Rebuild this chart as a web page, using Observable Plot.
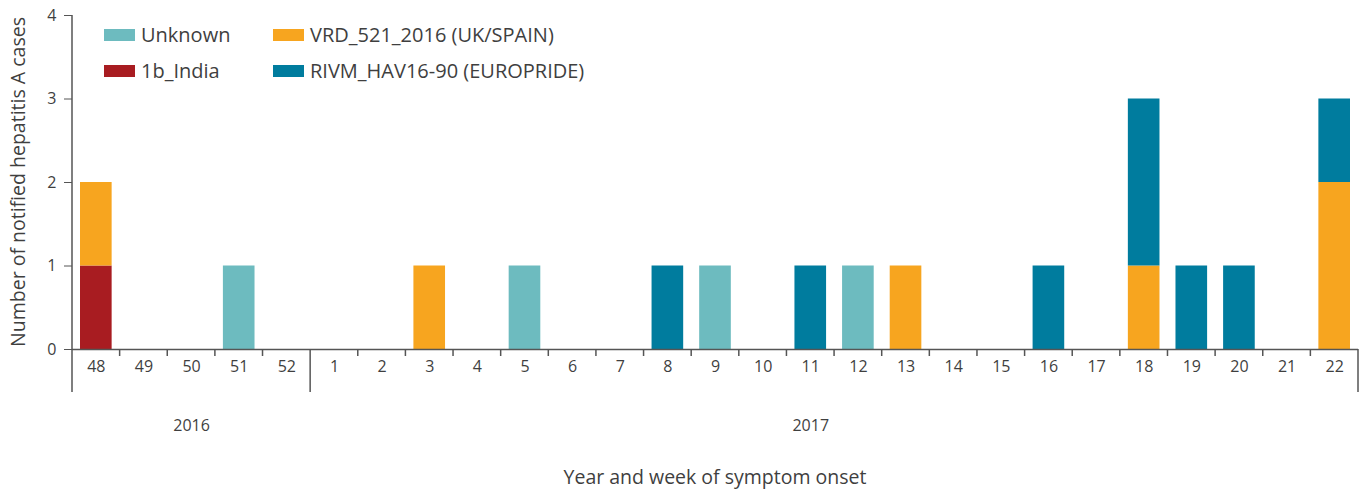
<!DOCTYPE html>
<html>
<head>
<meta charset="utf-8">
<script src="https://cdn.jsdelivr.net/npm/d3@7"></script>
<script src="https://cdn.jsdelivr.net/npm/@observablehq/plot@0.6"></script>
<style>
  body { margin: 0; background: #fff; }
  #wrap { position: relative; width: 1364px; height: 489px; font-family: "Open Sans", sans-serif; color: #3f3f3f; }
  .legend { position: absolute; font-size: 20px; color: #3f3f3f; }
  .item { position: absolute; display: flex; align-items: center; white-space: nowrap; }
  .sw { width: 31px; height: 12px; margin-right: 6px; }
</style>
</head>
<body>
<div id="wrap"></div>
<script>
// ---- data ----
const weeks = ["48","49","50","51","52","1","2","3","4","5","6","7","8","9","10","11","12","13","14","15","16","17","18","19","20","21","22"];
const yearLabels = ["2016", "2017"];
const yearCenterWeeks = ["50", "11"];
const yearStartWeeks = ["48", "1"];
const strains = ["1b_India", "Unknown", "VRD_521_2016 (UK/SPAIN)", "RIVM_HAV16-90 (EUROPRIDE)"];
const strainColors = ["#a81c21", "#6dbbbf", "#f7a51f", "#007c9e"];
const legendOrder = ["Unknown", "1b_India", "VRD_521_2016 (UK/SPAIN)", "RIVM_HAV16-90 (EUROPRIDE)"];
const caseWeeks   = ["48","48","51","3","5","8","9","11","12","13","16","18","18","19","20","22","22"];
const caseStrains = ["1b_India","VRD_521_2016 (UK/SPAIN)","Unknown","VRD_521_2016 (UK/SPAIN)","Unknown","RIVM_HAV16-90 (EUROPRIDE)","Unknown","RIVM_HAV16-90 (EUROPRIDE)","Unknown","VRD_521_2016 (UK/SPAIN)","RIVM_HAV16-90 (EUROPRIDE)","VRD_521_2016 (UK/SPAIN)","RIVM_HAV16-90 (EUROPRIDE)","RIVM_HAV16-90 (EUROPRIDE)","RIVM_HAV16-90 (EUROPRIDE)","VRD_521_2016 (UK/SPAIN)","RIVM_HAV16-90 (EUROPRIDE)"];
const caseCounts  = [1,1,1,1,1,1,1,1,1,1,1,1,2,1,1,2,1];
const yTicks = [0, 1, 2, 3, 4];

const cases = caseWeeks.map((w, i) => ({week: w, strain: caseStrains[i], n: caseCounts[i]}));
const years = yearLabels.map((y, i) => ({year: y, week: yearCenterWeeks[i]}));

const W = 1364, H = 489, mL = 72, mR = 6, mT = 15, mB = 140;
const axisColor = "#555";
const textColor = "#3f3f3f";

const plot = Plot.plot({
  width: W, height: H,
  marginLeft: mL, marginRight: mR, marginTop: mT, marginBottom: mB,
  style: {fontFamily: "Open Sans, sans-serif", fontSize: "16px", color: textColor, background: "#fff"},
  x: {domain: weeks, padding: 0, round: false, label: null},
  y: {domain: [0, 4], label: null},
  color: {domain: strains, range: strainColors},
  marks: [
    Plot.barY(cases, {x: "week", y: "n", fill: "strain", order: strains, insetLeft: 8, insetRight: 8}),
    Plot.axisY({ticks: yTicks, tickSize: 8, tickPadding: 8, label: null, stroke: axisColor, fontSize: 16, tickFormat: d3.format("d")}),
    Plot.axisX({tickSize: 0, tickPadding: 11, label: null, fontSize: 16}),
    Plot.ruleY([0], {stroke: axisColor, strokeWidth: 1.5}),
    Plot.text(years, {x: "week", y: () => 0, text: "year", dy: 76, fontSize: 16, fill: textColor})
  ]
});

const svg = d3.select(plot);
const xs = plot.scale("x");
const ys = plot.scale("y");
const step = xs.step != null ? xs.step : xs.bandwidth;
const y0 = ys.apply(0);
const y4 = ys.apply(4);
const g = svg.append("g").attr("stroke", axisColor);
// short ticks between weeks
weeks.forEach(w => {
  const xx = xs.apply(w);
  if (w !== weeks[0] && !yearStartWeeks.includes(w)) {
    g.append("line").attr("x1", xx).attr("x2", xx).attr("y1", y0).attr("y2", y0 + 7).attr("stroke-width", 1.5);
  }
});
// year separators and outer bounds
const longX = yearStartWeeks.map(w => xs.apply(w));
longX.push(xs.apply(weeks[weeks.length - 1]) + step);
longX.forEach((xx, i) => {
  g.append("line").attr("x1", xx).attr("x2", xx)
    .attr("y1", i === 0 ? y4 : y0).attr("y2", y0 + 43).attr("stroke-width", 1.5);
});
// axis titles
svg.append("text")
  .attr("x", (mL + W - mR) / 2).attr("y", 484)
  .attr("text-anchor", "middle").attr("fill", textColor)
  .attr("font-size", 19.5).attr("font-family", "Open Sans, sans-serif")
  .text("Year and week of symptom onset");
svg.append("text")
  .attr("transform", `translate(25,${(y0 + y4) / 2}) rotate(-90)`)
  .attr("text-anchor", "middle").attr("fill", textColor)
  .attr("font-size", 19.5).attr("font-family", "Open Sans, sans-serif")
  .text("Number of notified hepatitis A cases");

const wrap = document.getElementById("wrap");
wrap.appendChild(plot);

// legend (HTML overlay inside the frame)
const leg = document.createElement("div");
leg.className = "legend";
leg.style.left = "0px"; leg.style.top = "0px";
const pos = [[104, 21], [104, 57], [273, 21], [273, 57]];
legendOrder.forEach((s, i) => {
  const it = document.createElement("div");
  it.className = "item";
  it.style.left = pos[i][0] + "px";
  it.style.top = pos[i][1] + "px";
  const sw = document.createElement("div");
  sw.className = "sw";
  sw.style.background = strainColors[strains.indexOf(s)];
  const tx = document.createElement("span");
  tx.textContent = s;
  it.appendChild(sw); it.appendChild(tx);
  leg.appendChild(it);
});
wrap.appendChild(leg);
</script>
</body>
</html>
